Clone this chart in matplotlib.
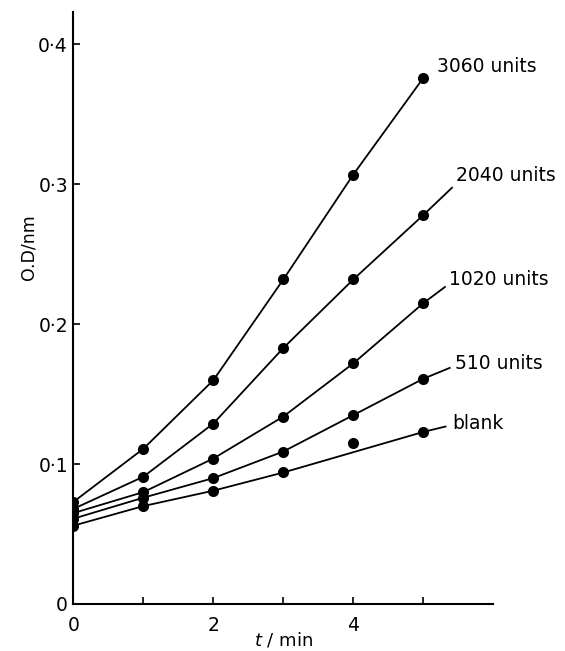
import matplotlib.pyplot as plt

# time points (min)
t = [0, 1, 2, 3, 4, 5]

# measured O.D. for each enzyme amount
od_3060 = [0.073, 0.111, 0.160, 0.232, 0.307, 0.376]
od_2040 = [0.068, 0.091, 0.129, 0.183, 0.232, 0.278]
od_1020 = [0.065, 0.080, 0.104, 0.134, 0.172, 0.215]
od_510 = [0.061, 0.076, 0.090, 0.109, 0.135, 0.161]
od_blank = [0.056, 0.070, 0.081, 0.094, 0.115, 0.123]

# hand-drawn lines (vertices), extended past the last point to the label
line_t_3060 = [0, 1, 2, 3, 4, 5]
line_od_3060 = [0.073, 0.111, 0.160, 0.232, 0.307, 0.376]
line_t_2040 = [0, 1, 2, 3, 4, 5, 5.42]
line_od_2040 = [0.068, 0.091, 0.129, 0.183, 0.232, 0.278, 0.298]
line_t_1020 = [0, 1, 2, 3, 4, 5, 5.32]
line_od_1020 = [0.065, 0.080, 0.104, 0.134, 0.172, 0.215, 0.227]
line_t_510 = [0, 1, 2, 3, 4, 5, 5.39]
line_od_510 = [0.061, 0.076, 0.090, 0.109, 0.135, 0.161, 0.169]
line_t_blank = [0, 1, 2, 3, 5, 5.33]
line_od_blank = [0.056, 0.070, 0.081, 0.094, 0.123, 0.127]

labels = ["3060 units", "2040 units", "1020 units", "510 units", "blank"]
label_t = [5.19, 5.47, 5.37, 5.46, 5.42]
label_od = [0.384, 0.306, 0.232, 0.172, 0.129]

x_ticks = [0, 1, 2, 3, 4, 5]
x_tick_labels = ["0", "", "2", "", "4", ""]
y_ticks = [0, 0.1, 0.2, 0.3, 0.4]
y_tick_labels = ["0", "0·1", "0·2", "0·3", "0·4"]


def main():
    plt.rcParams["font.family"] = ["DejaVu Sans"]
    fig = plt.figure(figsize=(5.65, 6.51), dpi=100)
    ax = fig.add_axes([0.130, 0.0722, 0.743, 0.909])

    series = [
        (od_3060, line_t_3060, line_od_3060),
        (od_2040, line_t_2040, line_od_2040),
        (od_1020, line_t_1020, line_od_1020),
        (od_510, line_t_510, line_od_510),
        (od_blank, line_t_blank, line_od_blank),
    ]
    for od, lt, lod in series:
        ax.plot(lt, lod, color="black", lw=1.3, solid_capstyle="butt")
        ax.plot(t, od, "o", color="black", ms=8, mew=0)

    for name, lx, ly in zip(labels, label_t, label_od):
        ax.text(lx, ly, name, fontsize=13.5, ha="left", va="center")

    ax.set_xlim(0, 6)
    ax.set_ylim(0, 0.423)
    ax.spines["top"].set_visible(False)
    ax.spines["right"].set_visible(False)
    ax.spines["left"].set_linewidth(1.5)
    ax.spines["bottom"].set_linewidth(1.5)

    ax.set_xticks(x_ticks)
    ax.set_xticklabels(x_tick_labels, fontsize=13.5)
    ax.set_yticks(y_ticks)
    ax.set_yticklabels(y_tick_labels, fontsize=13.5)
    ax.tick_params(axis="x", direction="in", length=5, width=1.2, pad=9)
    ax.tick_params(axis="y", direction="in", length=5, width=1.2, pad=4)

    ax.set_xlabel(r"$\it{t}$ / min", fontsize=13)
    ax.xaxis.set_label_coords(0.5, -0.061)
    ax.xaxis.label.set_va("center")
    ax.set_ylabel("O.D/nm", fontsize=12.5)
    ax.yaxis.set_label_coords(-0.106, 0.603)
    ax.yaxis.label.set_va("center")

    fig.savefig("out.png", dpi=100)


if __name__ == "__main__":
    main()
